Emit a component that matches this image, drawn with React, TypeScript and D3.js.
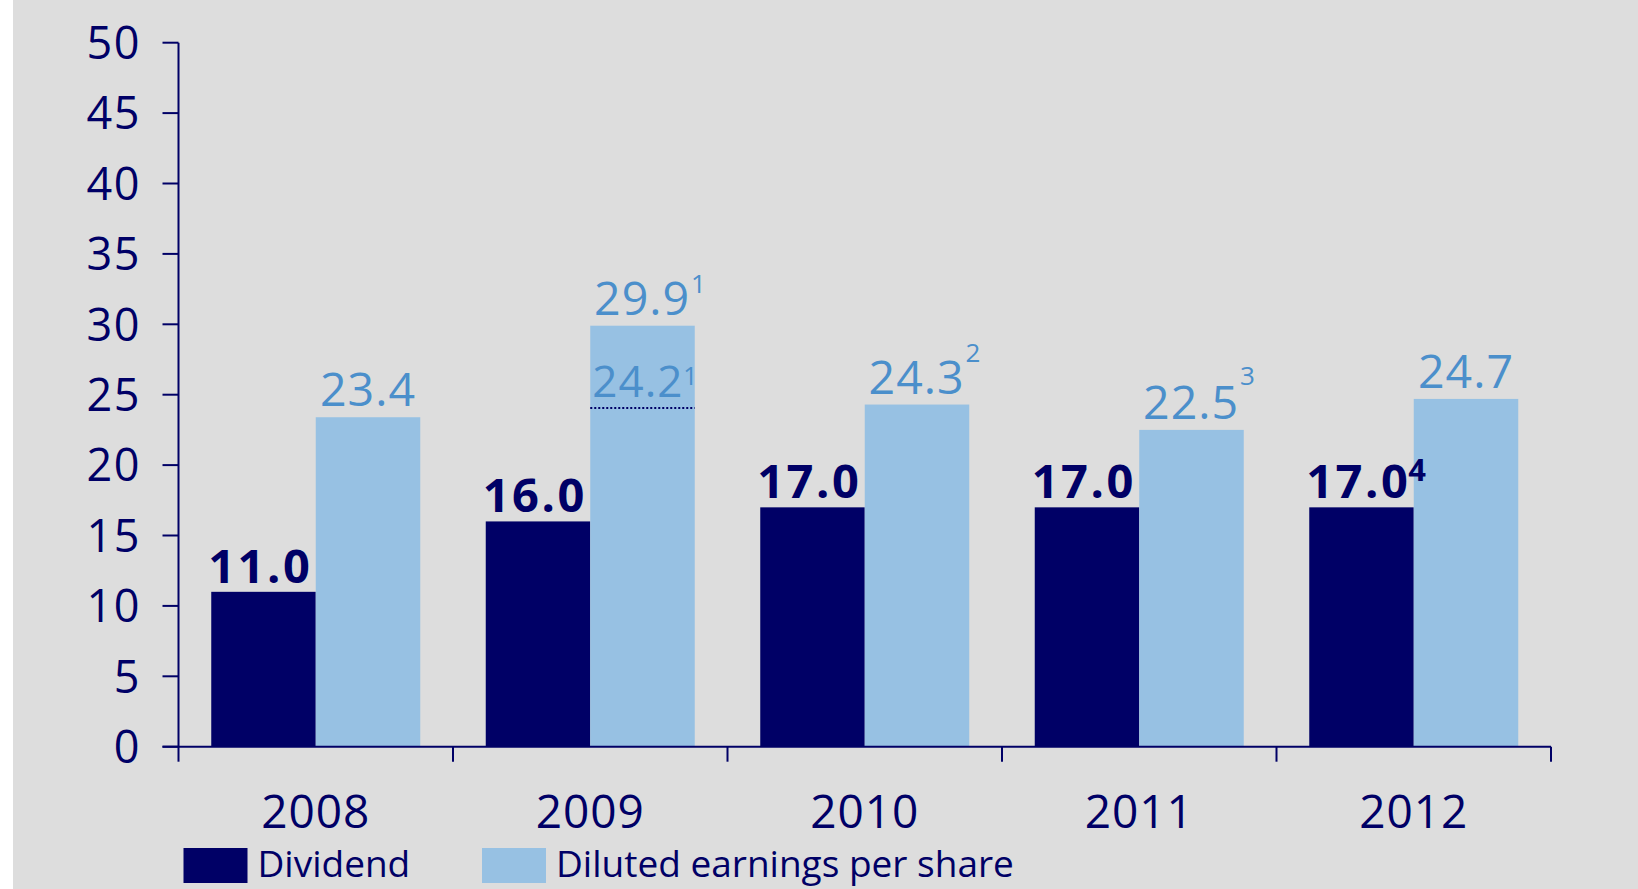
import { useEffect, useRef } from "react"
import * as d3 from "d3"

// chart data ---------------------------------------------------------
const years = ["2008", "2009", "2010", "2011", "2012"]
const dividend = [11.0, 16.0, 17.0, 17.0, 17.0]
const eps = [23.4, 29.9, 24.3, 22.5, 24.7]
const dividendNotes = ["", "", "", "", "4"]
const epsNotes = ["", "1", "2", "3", ""]
// restated 2009 figure, drawn as a dotted line inside the bar
const epsRestated = [null, 24.2, null, null, null]
const restatedNotes = ["", "1", "", "", ""]
const yTicks = [0, 5, 10, 15, 20, 25, 30, 35, 40, 45, 50]
const seriesNames = ["Dividend", "Diluted earnings per share"]

const NAVY = "#000066"
const LIGHT = "#97c1e3"
const LABEL_BLUE = "#4b8fcb"
const BG = "#dddddd"
const FONT = "'Open Sans', 'Noto Sans', sans-serif"

// how far each footnote marker sits above its label baseline
const epsNoteRaise = [0, 22, 32, 34, 0]
const dividendNoteRaise = [0, 0, 0, 0, 17]

export default function App() {
  const ref = useRef<SVGSVGElement>(null)

  useEffect(() => {
    const svg = d3.select(ref.current)
    svg.selectAll("*").remove()

    const width = 1638, height = 889
    const margin = { top: 42.7, right: 87, bottom: 142.3, left: 178.5 }
    const innerBottom = height - margin.bottom

    svg.append("rect")
      .attr("x", 13).attr("y", 0)
      .attr("width", width - 13).attr("height", height)
      .attr("fill", BG)

    const x = d3.scaleBand<string>()
      .domain(years)
      .range([margin.left, width - margin.right])
      .paddingInner(0).paddingOuter(0)

    const xSub = d3.scaleBand<string>()
      .domain(["dividend", "eps"])
      .range([0, x.bandwidth()])
      .paddingInner(0).paddingOuter(0.3134)

    const y = d3.scaleLinear()
      .domain([0, 50])
      .range([innerBottom, margin.top])

    const g = svg.append("g").style("font-family", FONT)

    // bars
    years.forEach((yr, i) => {
      const x0 = x(yr)!
      const dx = x0 + xSub("dividend")!
      const ex = x0 + xSub("eps")!
      const bw = xSub.bandwidth()

      g.append("rect")
        .attr("x", dx).attr("y", y(dividend[i]))
        .attr("width", bw).attr("height", y(0) - y(dividend[i]))
        .attr("fill", NAVY)

      g.append("rect")
        .attr("x", ex).attr("y", y(eps[i]))
        .attr("width", bw).attr("height", y(0) - y(eps[i]))
        .attr("fill", LIGHT)

      // dividend label (bold, navy)
      const dl = g.append("text")
        .attr("x", dx - 3)
        .attr("y", y(dividend[i]) - 9)
        .attr("fill", NAVY)
        .attr("font-weight", 700)
        .attr("font-size", 47)
        .attr("letter-spacing", 2.5)
        .text(dividend[i].toFixed(1))
      if (dividendNotes[i]) {
        dl.append("tspan")
          .attr("dx", -2)
          .attr("dy", -dividendNoteRaise[i])
          .attr("font-size", 31)
          .text(dividendNotes[i])
      }

      // eps label
      const shift = epsNotes[i] ? 8 : 0
      const el = g.append("text")
        .attr("x", ex + bw / 2 + shift)
        .attr("y", y(eps[i]) - 11)
        .attr("text-anchor", "middle")
        .attr("fill", LABEL_BLUE)
        .attr("font-size", 46.5)
        .attr("letter-spacing", 1)
        .text(eps[i].toFixed(1))
      if (epsNotes[i]) {
        el.append("tspan")
          .attr("dx", 1)
          .attr("dy", -epsNoteRaise[i])
          .attr("font-size", 26)
          .text(epsNotes[i])
      }

      const r = epsRestated[i]
      if (r != null) {
        g.append("line")
          .attr("x1", ex).attr("x2", ex + bw)
          .attr("y1", y(r) + 2).attr("y2", y(r) + 2)
          .attr("stroke", NAVY)
          .attr("stroke-width", 2)
          .attr("stroke-dasharray", "2,2")
        const rl = g.append("text")
          .attr("x", ex + bw / 2 + 3)
          .attr("y", y(r) - 9)
          .attr("text-anchor", "middle")
          .attr("fill", LABEL_BLUE)
          .attr("font-size", 44)
          .attr("letter-spacing", 1)
          .text(r.toFixed(1))
        if (restatedNotes[i]) {
          rl.append("tspan")
            .attr("dx", 0)
            .attr("dy", -12)
            .attr("font-size", 25)
            .text(restatedNotes[i])
        }
      }
    })

    // y axis
    g.append("line")
      .attr("x1", margin.left).attr("x2", margin.left)
      .attr("y1", y(50)).attr("y2", y(0))
      .attr("stroke", NAVY).attr("stroke-width", 2)

    yTicks.forEach(t => {
      g.append("line")
        .attr("x1", margin.left - 16).attr("x2", margin.left)
        .attr("y1", y(t)).attr("y2", y(t))
        .attr("stroke", NAVY).attr("stroke-width", 2)
      g.append("text")
        .attr("x", 141)
        .attr("y", y(t))
        .attr("dy", "0.36em")
        .attr("text-anchor", "end")
        .attr("fill", NAVY)
        .attr("font-size", 45)
        .attr("letter-spacing", 1.5)
        .text(t)
    })

    // x axis
    g.append("line")
      .attr("x1", margin.left - 16).attr("x2", width - margin.right)
      .attr("y1", y(0)).attr("y2", y(0))
      .attr("stroke", NAVY).attr("stroke-width", 2)

    const bounds = years.map(yr => x(yr)!).concat([width - margin.right])
    bounds.forEach(bx => {
      g.append("line")
        .attr("x1", bx).attr("x2", bx)
        .attr("y1", y(0)).attr("y2", y(0) + 15)
        .attr("stroke", NAVY).attr("stroke-width", 2)
    })

    years.forEach(yr => {
      g.append("text")
        .attr("x", x(yr)! + x.bandwidth() / 2)
        .attr("y", 828)
        .attr("text-anchor", "middle")
        .attr("fill", NAVY)
        .attr("font-size", 46)
        .attr("letter-spacing", 1)
        .text(yr)
    })

    // legend
    const legendX = [183.5, 482]
    const legendColors = [NAVY, LIGHT]
    seriesNames.forEach((name, i) => {
      g.append("rect")
        .attr("x", legendX[i]).attr("y", 848)
        .attr("width", 64).attr("height", 35)
        .attr("fill", legendColors[i])
      g.append("text")
        .attr("x", legendX[i] + 74)
        .attr("y", 877)
        .attr("fill", NAVY)
        .attr("font-size", 37)
        .text(name)
    })
  }, [])

  return (
    <svg
      ref={ref}
      width={1638}
      height={889}
      style={{ position: "absolute", left: 0, top: 0, display: "block" }}
    />
  )
}
